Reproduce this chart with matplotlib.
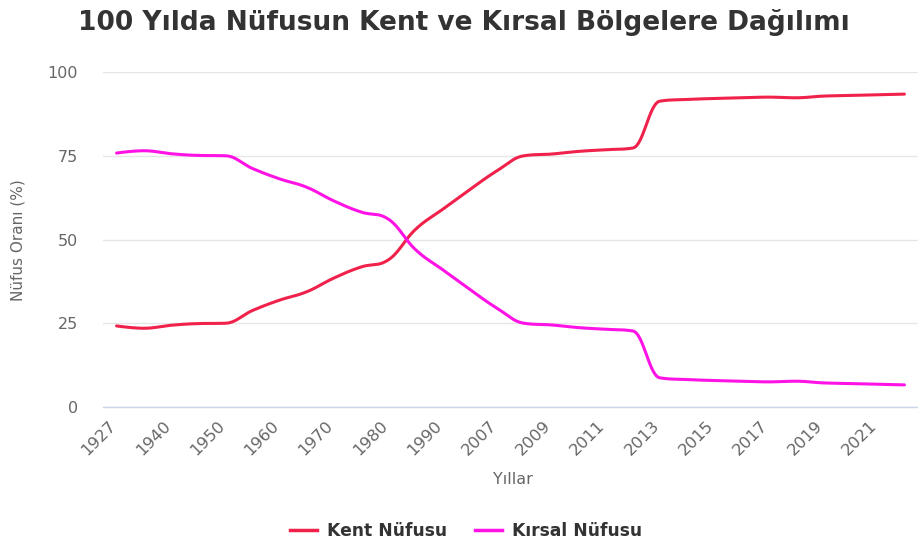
import numpy as np
import matplotlib.pyplot as plt
import matplotlib.transforms as mtransforms
from matplotlib.lines import Line2D

# TÜİK kent / kırsal nüfus oranları (%)
years = ["1927", "1935", "1940", "1945", "1950", "1955", "1960", "1965", "1970", "1975",
         "1980", "1985", "1990", "2000", "2007", "2008", "2009", "2010", "2011", "2012",
         "2013", "2014", "2015", "2016", "2017", "2018", "2019", "2020", "2021", "2022"]
kent = [24.2, 23.5, 24.4, 24.9, 25.0, 28.8, 31.9, 34.4, 38.5, 41.8,
        43.9, 53.0, 59.0, 64.9, 70.5, 75.0, 75.5, 76.3, 76.8, 77.3,
        91.3, 91.8, 92.1, 92.3, 92.5, 92.3, 92.8, 93.0, 93.2, 93.4]
kirsal = [75.8, 76.5, 75.6, 75.1, 75.0, 71.2, 68.1, 65.6, 61.5, 58.2,
          56.1, 47.0, 41.0, 35.1, 29.5, 25.0, 24.5, 23.7, 23.2, 22.7,
          8.7, 8.2, 7.9, 7.7, 7.5, 7.7, 7.2, 7.0, 6.8, 6.6]

RED = "#f0224b"
MAGENTA = "#ff12e6"
GRAY = "#666666"


def spline(ys, smoothing=1.5, n=30):
    # highcharts tarzı spline: her nokta için sol/sağ kontrol noktaları
    xs = np.arange(len(ys), dtype=float)
    ys = np.asarray(ys, dtype=float)
    m = len(ys)
    lc = np.column_stack([xs, ys]).copy()
    rc = np.column_stack([xs, ys]).copy()
    d = smoothing + 1
    for i in range(1, m - 1):
        x, y = xs[i], ys[i]
        lx, ly = xs[i - 1], ys[i - 1]
        nx, ny = xs[i + 1], ys[i + 1]
        lcx, lcy = (smoothing * x + lx) / d, (smoothing * y + ly) / d
        rcx, rcy = (smoothing * x + nx) / d, (smoothing * y + ny) / d
        corr = (rcy - lcy) * (rcx - x) / (rcx - lcx) + y - rcy
        lcy += corr
        rcy += corr
        if lcy > max(ly, y):
            lcy = max(ly, y); rcy = 2 * y - lcy
        elif lcy < min(ly, y):
            lcy = min(ly, y); rcy = 2 * y - lcy
        if rcy > max(ny, y):
            rcy = max(ny, y); lcy = 2 * y - rcy
        elif rcy < min(ny, y):
            rcy = min(ny, y); lcy = 2 * y - rcy
        lc[i] = (lcx, lcy)
        rc[i] = (rcx, rcy)
    t = np.linspace(0, 1, n)[:, None]
    pts = []
    for i in range(m - 1):
        p0 = np.array([xs[i], ys[i]])
        p3 = np.array([xs[i + 1], ys[i + 1]])
        p1, p2 = rc[i], lc[i + 1]
        seg = ((1 - t) ** 3) * p0 + 3 * ((1 - t) ** 2) * t * p1 + 3 * (1 - t) * t ** 2 * p2 + t ** 3 * p3
        pts.append(seg if i == 0 else seg[1:])
    pts = np.vstack(pts)
    return pts[:, 0], pts[:, 1]


fig = plt.figure(figsize=(9.18, 5.43), dpi=100)
ax = fig.add_axes([103 / 918, 1 - 407 / 543, 1 - 103 / 918, (407 - 72) / 543])

sx, sy = spline(kent)
ax.plot(sx, sy, color=RED, lw=2.2, solid_capstyle="round")
sx, sy = spline(kirsal)
ax.plot(sx, sy, color=MAGENTA, lw=2.2, solid_capstyle="round")

ax.set_xlim(-0.5, len(years) - 0.5)
ax.set_ylim(0, 100)
ax.set_yticks([0, 25, 50, 75, 100])
ax.yaxis.grid(True, color="#e6e6e6", lw=1)
ax.set_axisbelow(True)
for s in ["top", "right", "left"]:
    ax.spines[s].set_visible(False)
ax.spines["bottom"].set_color("#ccd6eb")
ax.spines["bottom"].set_linewidth(1)

idx = np.arange(len(years))
ax.set_xticks(idx[::2])
ax.set_xticklabels(years[::2], rotation=45, ha="right", va="center", rotation_mode="anchor")
ax.tick_params(axis="x", length=0, pad=12, labelsize=11.8, labelcolor=GRAY)
ax.tick_params(axis="y", length=0, pad=18, labelsize=11.5, labelcolor=GRAY)
offset = mtransforms.ScaledTranslation(-3 / 100, 0, fig.dpi_scale_trans)
for lbl in ax.get_xticklabels():
    lbl.set_transform(lbl.get_transform() + offset)

fig.text(18 / 918, 1 - 240 / 543, "Nüfus Oranı (%)", rotation=90, ha="center", va="center",
         color=GRAY, fontsize=11)
fig.text(513 / 918, 1 - 480 / 543, "Yıllar", ha="center", va="center", color=GRAY, fontsize=11.5)
fig.text(464 / 918, 1 - 22 / 543, "100 Yılda Nüfusun Kent ve Kırsal Bölgelere Dağılımı",
         ha="center", va="center", color="#333333", fontsize=19, fontweight="bold")

handles = [Line2D([], [], color=RED, lw=2.5), Line2D([], [], color=MAGENTA, lw=2.5)]
fig.legend(handles, ["Kent Nüfusu", "Kırsal Nüfusu"], loc="center",
           bbox_to_anchor=(466 / 918, 1 - 531 / 543), ncol=2, frameon=False,
           handlelength=1.6, columnspacing=1.6, handletextpad=0.6,
           prop={"weight": "bold", "size": 12.3}, labelcolor="#333333")

fig.savefig("out.png", dpi=100)
